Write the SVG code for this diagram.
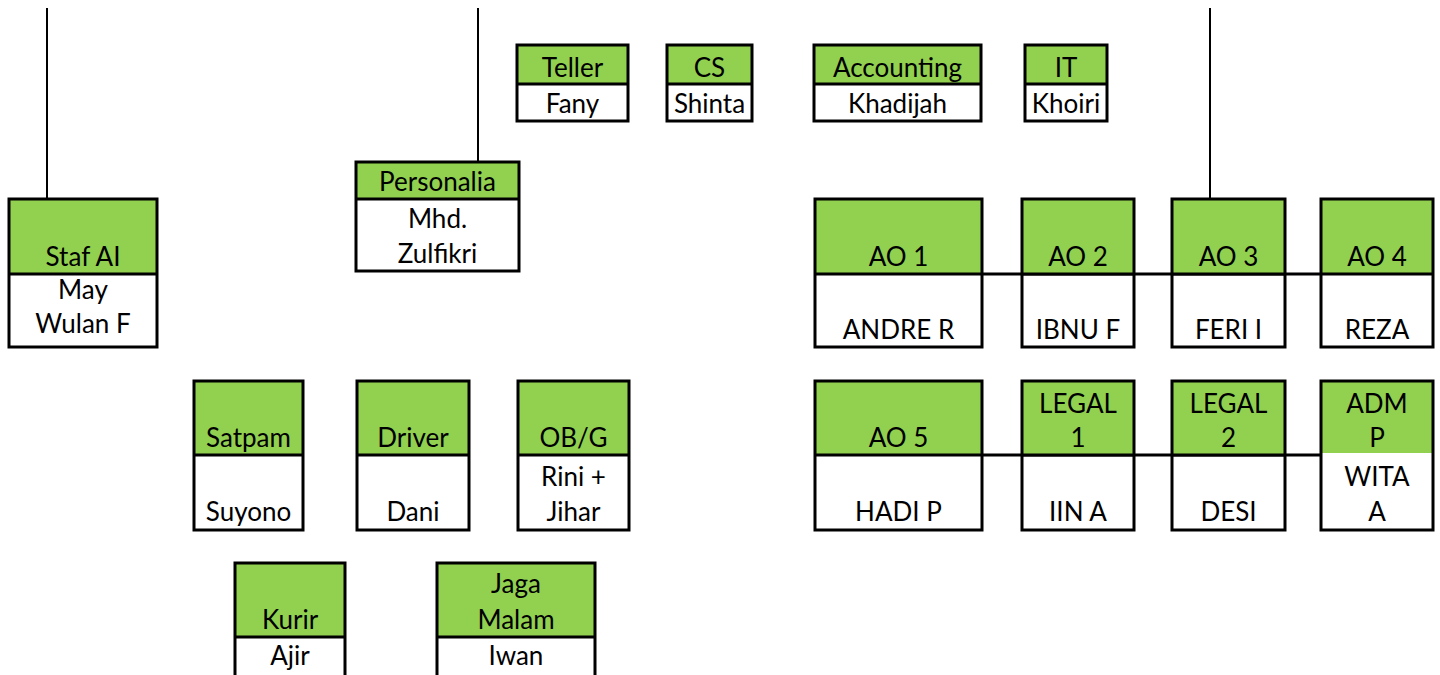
<svg xmlns="http://www.w3.org/2000/svg" width="1440" height="675" viewBox="0 0 1440 675">
<style>
.g{fill:#92D050;stroke:none}
.w{fill:#FFFFFF;stroke:none}
.b{fill:none;stroke:#000;stroke-width:3}
.d{stroke:#000;stroke-width:3}
.c{stroke:#000;stroke-width:2;fill:none}
text{font-family:"Lato","Open Sans","Liberation Sans",sans-serif;font-size:26px;fill:#000;text-anchor:middle}
</style>
<rect width="1440" height="675" fill="#fff"/>
<g id="connectors">
<line class="c" x1="47" y1="8" x2="47" y2="199"/>
<line class="c" x1="478" y1="8" x2="478" y2="162"/>
<line class="c" x1="1210" y1="8" x2="1210" y2="199"/>
<line class="d" x1="982" y1="274" x2="1321" y2="274"/>
<line class="d" x1="982" y1="455" x2="1321" y2="455"/>
</g>
<g id="teller"><rect class="g" x="517" y="45" width="111" height="39"/><rect class="w" x="517" y="84" width="111" height="37"/><rect class="b" x="517" y="45" width="111" height="76"/><line class="d" x1="517" y1="84" x2="628" y2="84"/><text x="572.5" y="77">Teller</text><text x="572.5" y="113">Fany</text></g>
<g id="cs"><rect class="g" x="667" y="45" width="85" height="39"/><rect class="b" x="667" y="45" width="85" height="76"/><line class="d" x1="667" y1="84" x2="752" y2="84"/><text x="709.5" y="77">CS</text><text x="709.5" y="113">Shinta</text></g>
<g id="accounting"><rect class="g" x="814" y="45" width="167" height="39"/><rect class="b" x="814" y="45" width="167" height="76"/><line class="d" x1="814" y1="84" x2="981" y2="84"/><text x="897.5" y="77">Accounting</text><text x="897.5" y="113">Khadijah</text></g>
<g id="it"><rect class="g" x="1025" y="45" width="82" height="39"/><rect class="b" x="1025" y="45" width="82" height="76"/><line class="d" x1="1025" y1="84" x2="1107" y2="84"/><text x="1066" y="77">IT</text><text x="1066" y="113">Khoiri</text></g>
<g id="staf-ai"><rect class="g" x="9" y="199" width="148" height="75"/><rect class="b" x="9" y="199" width="148" height="148"/><line class="d" x1="9" y1="274" x2="157" y2="274"/><text x="83" y="266">Staf AI</text><text x="83" y="299">May</text><text x="83" y="333">Wulan F</text></g>
<g id="personalia"><rect class="g" x="356" y="162" width="163" height="37"/><rect class="b" x="356" y="162" width="163" height="109"/><line class="d" x1="356" y1="199" x2="519" y2="199"/><text x="437.5" y="191">Personalia</text><text x="437.5" y="228">Mhd.</text><text x="437.5" y="263">Zulfikri</text></g>
<g id="ao1"><rect class="g" x="815" y="199" width="167" height="75"/><rect class="b" x="815" y="199" width="167" height="148"/><line class="d" x1="815" y1="274" x2="982" y2="274"/><text x="898.5" y="266">AO 1</text><text x="898.5" y="339">ANDRE R</text></g>
<g id="ao2"><rect class="g" x="1022" y="199" width="112" height="75"/><rect class="b" x="1022" y="199" width="112" height="148"/><line class="d" x1="1022" y1="274" x2="1134" y2="274"/><text x="1078" y="266">AO 2</text><text x="1078" y="339">IBNU F</text></g>
<g id="ao3"><rect class="g" x="1172" y="199" width="113" height="75"/><rect class="b" x="1172" y="199" width="113" height="148"/><line class="d" x1="1172" y1="274" x2="1285" y2="274"/><text x="1228.5" y="266">AO 3</text><text x="1228.5" y="339">FERI I</text></g>
<g id="ao4"><rect class="g" x="1321" y="199" width="112" height="75"/><rect class="b" x="1321" y="199" width="112" height="148"/><line class="d" x1="1321" y1="274" x2="1433" y2="274"/><text x="1377" y="266">AO 4</text><text x="1377" y="339">REZA</text></g>
<g id="ao5"><rect class="g" x="815" y="381" width="167" height="74"/><rect class="b" x="815" y="381" width="167" height="149"/><line class="d" x1="815" y1="455" x2="982" y2="455"/><text x="898.5" y="447">AO 5</text><text x="898.5" y="521">HADI P</text></g>
<g id="legal1"><rect class="g" x="1022" y="381" width="112" height="74"/><rect class="b" x="1022" y="381" width="112" height="149"/><line class="d" x1="1022" y1="455" x2="1134" y2="455"/><text x="1078" y="413">LEGAL</text><text x="1078" y="447">1</text><text x="1078" y="521">IIN A</text></g>
<g id="legal2"><rect class="g" x="1172" y="381" width="113" height="74"/><rect class="b" x="1172" y="381" width="113" height="149"/><line class="d" x1="1172" y1="455" x2="1285" y2="455"/><text x="1228.5" y="413">LEGAL</text><text x="1228.5" y="447">2</text><text x="1228.5" y="521">DESI</text></g>
<g id="adm-p"><rect class="g" x="1321" y="381" width="112" height="72"/><rect class="b" x="1321" y="381" width="112" height="149"/><text x="1377" y="413">ADM</text><text x="1377" y="447">P</text><text x="1377" y="486">WITA</text><text x="1377" y="521">A</text></g>
<g id="satpam"><rect class="g" x="194" y="381" width="109" height="74"/><rect class="b" x="194" y="381" width="109" height="149"/><line class="d" x1="194" y1="455" x2="303" y2="455"/><text x="248.5" y="447">Satpam</text><text x="248.5" y="521">Suyono</text></g>
<g id="driver"><rect class="g" x="357" y="381" width="112" height="74"/><rect class="b" x="357" y="381" width="112" height="149"/><line class="d" x1="357" y1="455" x2="469" y2="455"/><text x="413" y="447">Driver</text><text x="413" y="521">Dani</text></g>
<g id="obg"><rect class="g" x="518" y="381" width="111" height="74"/><rect class="b" x="518" y="381" width="111" height="149"/><line class="d" x1="518" y1="455" x2="629" y2="455"/><text x="573.5" y="447">OB/G</text><text x="573.5" y="486">Rini +</text><text x="573.5" y="521">Jihar</text></g>
<g id="kurir"><rect class="g" x="235" y="563" width="110" height="74"/><path class="b" d="M235,677 V563 H345 V677"/><line class="d" x1="235" y1="637" x2="345" y2="637"/><text x="290" y="629">Kurir</text><text x="290" y="665">Ajir</text></g>
<g id="jaga-malam"><rect class="g" x="437" y="563" width="158" height="74"/><path class="b" d="M437,677 V563 H595 V677"/><line class="d" x1="437" y1="637" x2="595" y2="637"/><text x="516" y="593">Jaga</text><text x="516" y="629">Malam</text><text x="516" y="665">Iwan</text></g>
</svg>
